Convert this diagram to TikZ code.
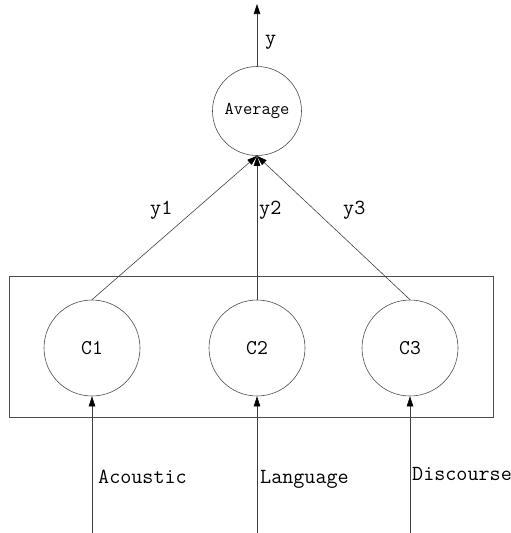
\documentclass[tikz,border=0pt]{standalone}
\usetikzlibrary{arrows.meta}
\begin{document}
\begin{tikzpicture}[x=1pt,y=-1pt,
  lbl/.style={font=\ttfamily\fontsize{21.5}{23}\selectfont, inner sep=0pt},
  unit/.style={circle, draw=black!70, line width=0.6pt, minimum size=96pt, inner sep=0pt,
    font=\ttfamily\fontsize{21}{23}\selectfont},
  conn/.style={draw=black!75, line width=0.6pt, -{Triangle[length=10pt,width=6.5pt,color=black]}}]
\useasboundingbox (0,0) rectangle (511,533);
\node[draw=black!70, line width=0.6pt, minimum width=484pt, minimum height=141pt, inner sep=0pt] (box) at (251,346.5) {};
\node[unit, minimum size=89pt, font=\ttfamily\fontsize{18}{20}\selectfont] (avg) at (257,111) {Average};
\node[unit] (c1) at (92,348) {C1};
\node[unit] (c2) at (257,348) {C2};
\node[unit] (c3) at (410,348) {C3};
\coordinate (out) at (257,4);
\coordinate (i1) at (92,533);
\coordinate (i2) at (257,533);
\coordinate (i3) at (410,533);
\draw[conn] (avg.north) -- (out);
\draw[conn] (c1.north) -- (avg.south);
\draw[conn] (c2.north) -- (avg.south);
\draw[conn] (c3.north) -- (avg.south);
\draw[conn] (i1) -- (c1.south);
\draw[conn] (i2) -- (c2.south);
\draw[conn] (i3) -- (c3.south);
\node[lbl, anchor=base west] (ly) at (265,44) {y};
\node[lbl, anchor=base west] (ly1) at (150,214) {y1};
\node[lbl, anchor=base west] (ly2) at (259,214) {y2};
\node[lbl, anchor=base west] (ly3) at (343,214) {y3};
\node[lbl, anchor=base west] (la) at (98,483) {Acoustic};
\node[lbl, anchor=base west] (ll) at (260,483) {Language};
\node[lbl, anchor=base west] (ld) at (412,480) {Discourse};
\end{tikzpicture}
\end{document}
